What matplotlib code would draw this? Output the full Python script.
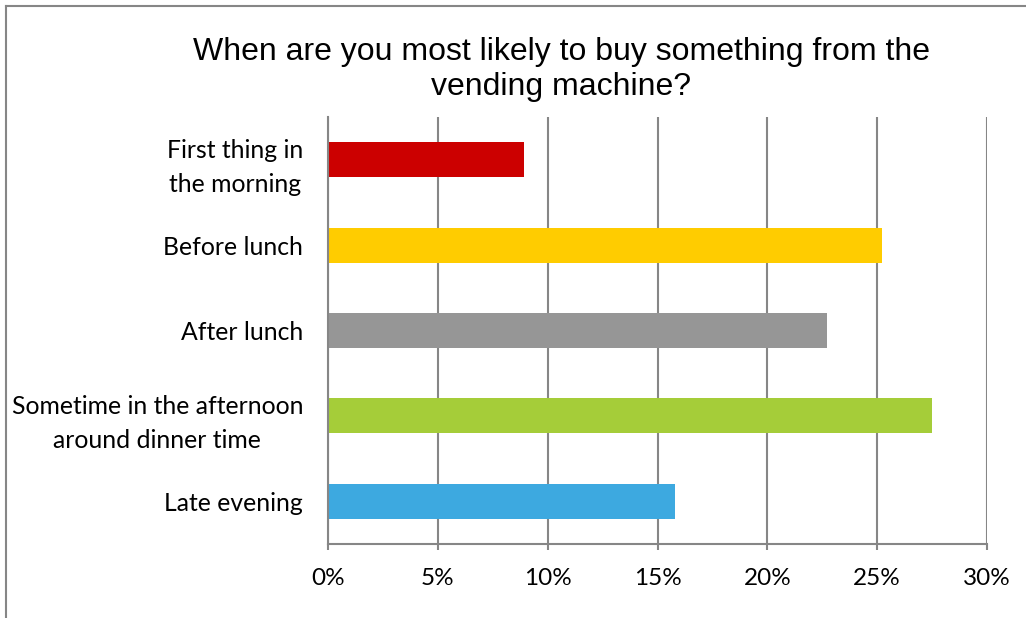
import matplotlib.pyplot as plt
from matplotlib.lines import Line2D
from matplotlib.ticker import PercentFormatter

# answers, top to bottom as shown
categories = ['First thing in\nthe morning', 'Before lunch', 'After lunch',
              'Sometime in the afternoon\naround dinner time', 'Late evening']
shares = [8.9, 25.2, 22.7, 27.5, 15.8]
colors = ['#CC0000', '#FFCC00', '#969696', '#A5CD39', '#3DA9E0']
xticks = [0, 5, 10, 15, 20, 25, 30]

grey = '#868686'

fig = plt.figure(figsize=(10.26, 6.18), dpi=100)
ax = fig.add_axes([0.3197, 0.1197, 0.6423, 0.6910])

ypos = list(range(len(categories)))[::-1]
ax.barh(ypos, shares, height=0.41, color=colors, zorder=3)

ax.set_xlim(0, 30)
ax.set_ylim(-0.5, len(categories) - 0.5)
ax.set_xticks(xticks)
ax.xaxis.set_major_formatter(PercentFormatter(decimals=0))
ax.set_yticks(ypos)
ax.set_yticklabels(categories, multialignment='center', linespacing=1.6)

ax.grid(axis='x', color=grey, linewidth=1.5, zorder=0)
for s in ['top', 'right']:
    ax.spines[s].set_visible(False)
for s in ['left', 'bottom']:
    ax.spines[s].set_color(grey)
    ax.spines[s].set_linewidth(1.5)
    ax.spines[s].set_zorder(4)

ax.tick_params(axis='x', length=4, width=1.5, color=grey, pad=13,
               labelsize=17.5)
ax.tick_params(axis='y', length=0, pad=18, labelsize=17.8)
for lab in ax.get_xticklabels() + ax.get_yticklabels():
    lab.set_fontfamily('Lato')

fig.text(0.547, 0.888, 'When are you most likely to buy something from the\nvending machine?',
         ha='center', va='center', fontsize=23, family='Liberation Sans',
         linespacing=1.2)

# outer chart frame (left and top edges only visible)
fig.add_artist(Line2D([0.006, 0.006], [0, 0.99], color=grey, linewidth=1.5,
                      transform=fig.transFigure))
fig.add_artist(Line2D([0.006, 1], [0.99, 0.99], color=grey, linewidth=1.5,
                      transform=fig.transFigure))

fig.savefig('out.png', dpi=100)
